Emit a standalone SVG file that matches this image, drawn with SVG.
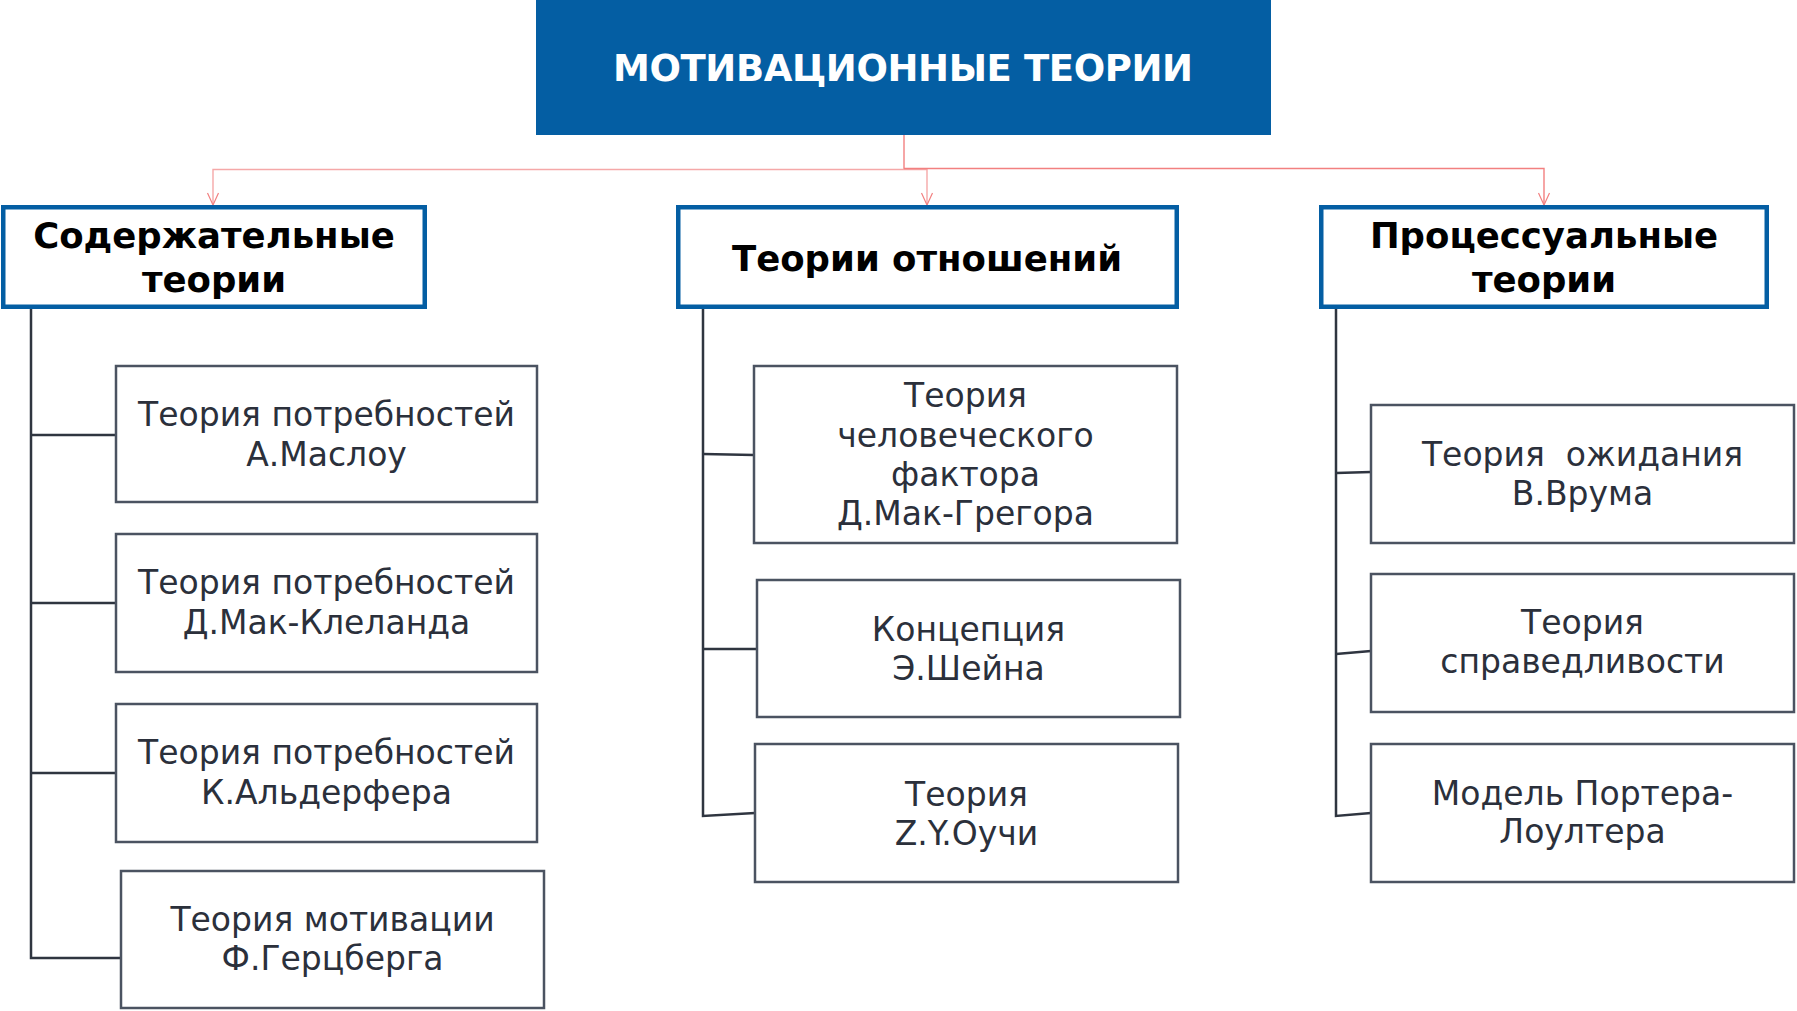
<svg xmlns="http://www.w3.org/2000/svg" width="1797" height="1011" viewBox="0 0 1797 1011">
<defs>
<style>
.title{font-family:"DejaVu Sans","Liberation Sans",sans-serif;font-weight:bold;font-size:37px;fill:#ffffff;text-anchor:middle}
.hdr{fill:#ffffff;stroke:#045ea3;stroke-width:4.5}
.htxt{font-family:"DejaVu Sans","Liberation Sans",sans-serif;font-weight:bold;font-size:35.5px;fill:#000000;text-anchor:middle}
.box{fill:#ffffff;stroke:#4b5361;stroke-width:2.5}
.btxt{font-family:"DejaVu Sans","Liberation Sans",sans-serif;font-size:33px;fill:#2b303b;text-anchor:middle}
.dark{fill:none;stroke:#2f3540;stroke-width:2.5}
.red{fill:none;stroke:#f28080;stroke-width:1.4}
.pink{fill:none;stroke:#f5a8a8;stroke-width:1.4}
</style>
<marker id="arrd" viewBox="0 0 14 14" refX="13" refY="7" markerWidth="14" markerHeight="14" markerUnits="userSpaceOnUse" orient="auto">
<path d="M1,1.5 L13,7 L1,12.5" fill="none" stroke="#f28080" stroke-width="1.2"/>
</marker>
</defs>
<rect width="1797" height="1011" fill="#ffffff"/>

<g id="connectors">
<path class="red" d="M904,134 V169"/>
<path class="pink" d="M904,169.5 H213 V205" marker-end="url(#arrd)"/>
<path class="pink" d="M904,169.5 H927 V205" marker-end="url(#arrd)"/>
<path class="red" d="M904,168.5 H1544 V205" marker-end="url(#arrd)"/>
<path class="dark" d="M31,309 V958 H121"/>
<path class="dark" d="M31,435 H116"/>
<path class="dark" d="M31,603 H116"/>
<path class="dark" d="M31,773 H116"/>
<path class="dark" d="M703,309 V816 L755,813"/>
<path class="dark" d="M703,454 L754,455"/>
<path class="dark" d="M703,649 H757"/>
<path class="dark" d="M1336,309 V816 L1371,813"/>
<path class="dark" d="M1336,473 L1371,472"/>
<path class="dark" d="M1336,654 L1371,651"/>
</g>

<g id="root">
<rect x="536" y="0" width="735" height="135" fill="#045ea3"/>
<text class="title" x="903" y="81" textLength="580">МОТИВАЦИОННЫЕ ТЕОРИИ</text>
</g>

<g id="content-theories">
<rect class="hdr" x="3.25" y="207.25" width="421.5" height="99.5"/>
<text class="htxt" x="214" y="248">Содержательные</text>
<text class="htxt" x="214" y="292">теории</text>
</g>
<g id="relation-theories">
<rect class="hdr" x="678.25" y="207.25" width="498.5" height="99.5"/>
<text class="htxt" x="927" y="271">Теории отношений</text>
</g>
<g id="process-theories">
<rect class="hdr" x="1321.25" y="207.25" width="445.5" height="99.5"/>
<text class="htxt" x="1544" y="248">Процессуальные</text>
<text class="htxt" x="1544" y="292">теории</text>
</g>

<g id="maslow">
<rect class="box" x="116" y="366" width="421" height="136"/>
<text class="btxt" x="326.5" y="426">Теория потребностей</text>
<text class="btxt" x="326.5" y="466">А.Маслоу</text>
</g>
<g id="mcclelland">
<rect class="box" x="116" y="534" width="421" height="138"/>
<text class="btxt" x="326.5" y="594">Теория потребностей</text>
<text class="btxt" x="326.5" y="634">Д.Мак-Клеланда</text>
</g>
<g id="alderfer">
<rect class="box" x="116" y="704" width="421" height="138"/>
<text class="btxt" x="326.5" y="764">Теория потребностей</text>
<text class="btxt" x="326.5" y="804">К.Альдерфера</text>
</g>
<g id="herzberg">
<rect class="box" x="121" y="871" width="423" height="137"/>
<text class="btxt" x="332.5" y="931">Теория мотивации</text>
<text class="btxt" x="332.5" y="970">Ф.Герцберга</text>
</g>

<g id="mcgregor">
<rect class="box" x="754" y="366" width="423" height="177"/>
<text class="btxt" x="965.5" y="407">Теория</text>
<text class="btxt" x="965.5" y="447">человеческого</text>
<text class="btxt" x="965.5" y="486">фактора</text>
<text class="btxt" x="965.5" y="525">Д.Мак-Грегора</text>
</g>
<g id="schein">
<rect class="box" x="757" y="580" width="423" height="137"/>
<text class="btxt" x="968.5" y="641">Концепция</text>
<text class="btxt" x="968.5" y="680">Э.Шейна</text>
</g>
<g id="ouchi">
<rect class="box" x="755" y="744" width="423" height="138"/>
<text class="btxt" x="966.5" y="806">Теория</text>
<text class="btxt" x="966.5" y="845">Z.Y.Оучи</text>
</g>

<g id="vroom">
<rect class="box" x="1371" y="405" width="423" height="138"/>
<text class="btxt" x="1582.5" y="466" xml:space="preserve">Теория  ожидания</text>
<text class="btxt" x="1582.5" y="505">В.Врума</text>
</g>
<g id="equity">
<rect class="box" x="1371" y="574" width="423" height="138"/>
<text class="btxt" x="1582.5" y="634">Теория</text>
<text class="btxt" x="1582.5" y="673">справедливости</text>
</g>
<g id="porter-lawler">
<rect class="box" x="1371" y="744" width="423" height="138"/>
<text class="btxt" x="1582.5" y="805">Модель Портера-</text>
<text class="btxt" x="1582.5" y="843">Лоултера</text>
</g>
</svg>
